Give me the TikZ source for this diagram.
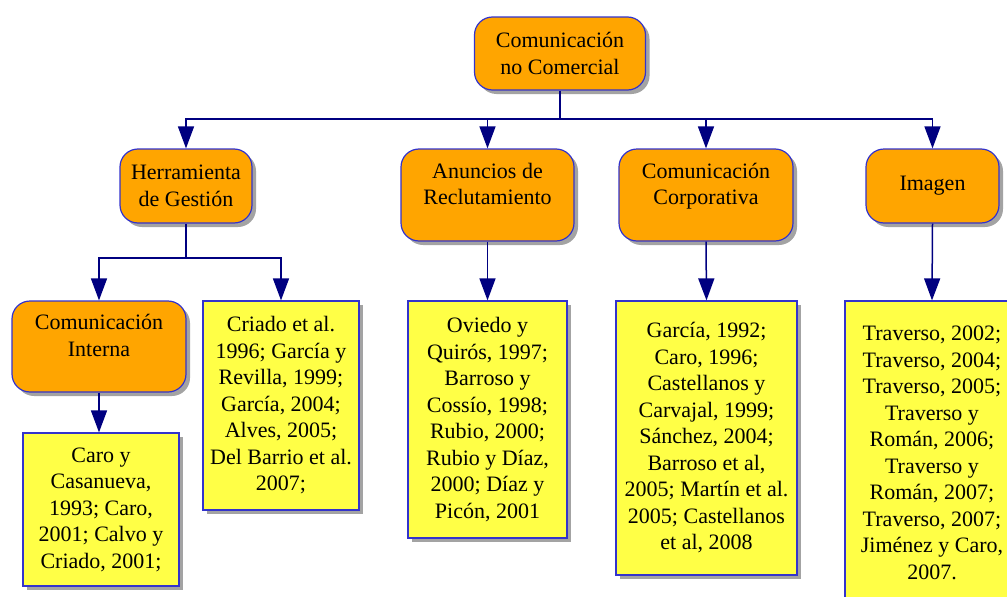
\documentclass[tikz,border=0pt]{standalone}
\usepackage{fontspec}
\setmainfont{Liberation Serif}
\usetikzlibrary{arrows.meta,shadows}
\definecolor{naranja}{RGB}{255,165,0}
\definecolor{amarillo}{RGB}{255,255,70}
\definecolor{borde}{RGB}{51,51,204}
\definecolor{marino}{RGB}{0,0,128}
\begin{document}
\begin{tikzpicture}[x=1pt,y=-1pt,
    caja/.style={draw=borde, line width=1.2pt, align=center, inner sep=2pt,
      font=\fontsize{22}{26.5}\selectfont,
      drop shadow={shadow xshift=4pt, shadow yshift=-4pt, fill=black!45, opacity=.8}},
    tema/.style={caja, fill=naranja, rounded corners=18pt},
    cita/.style={caja, fill=amarillo},
    linea/.style={draw=marino, line width=1.5pt},
    flecha/.style={linea, -{Triangle[width=16pt,length=22pt]}}]
    \useasboundingbox (0,0) rectangle (1007,597);
    % temas
    \node[tema, minimum width=171pt, minimum height=73pt] (raiz) at (560,53.5) {Comunicación\\no Comercial};
    \node[tema, minimum width=132pt, minimum height=74pt] (herram) at (186,186) {Herramienta\\de Gestión};
    \node[tema, minimum width=174pt, minimum height=91pt] (interna) at (99,346.5) {Comunicación\\Interna\\[-4pt]~};
    \node[tema, minimum width=173pt, minimum height=92pt] (anuncios) at (487.5,195) {Anuncios de\\Reclutamiento\\[-4pt]~};
    \node[tema, minimum width=174pt, minimum height=92pt] (corpor) at (706,195) {Comunicación\\Corporativa\\[-4pt]~};
    \node[tema, minimum width=133pt, minimum height=74pt] (imagen) at (932.5,186) {Imagen};
    % citas
    \node[cita, minimum width=156pt, minimum height=153pt] (citaInt) at (101,509.5) {Caro y\\Casanueva,\\1993; Caro,\\2001; Calvo y\\Criado, 2001;};
    \node[cita, minimum width=156pt, minimum height=209pt] (citaHer) at (281,405.5) {Criado et al.\\1996; García y\\Revilla, 1999;\\García, 2004;\\Alves, 2005;\\Del Barrio et al.\\2007;};
    \node[cita, minimum width=159pt, minimum height=237pt] (citaAnu) at (487.5,419.5) {Oviedo y\\Quirós, 1997;\\Barroso y\\Cossío, 1998;\\Rubio, 2000;\\Rubio y Díaz,\\2000; Díaz y\\Picón, 2001};
    \node[cita, minimum width=181pt, minimum height=274pt] (citaCor) at (706.5,438) {García, 1992;\\Caro, 1996;\\Castellanos y\\Carvajal, 1999;\\Sánchez, 2004;\\Barroso et al,\\2005; Martín et al.\\2005; Castellanos\\et al, 2008};
    \node[cita, minimum width=174pt, minimum height=304pt] (citaIma) at (932,453) {Traverso, 2002;\\Traverso, 2004;\\Traverso, 2005;\\Traverso y\\Román, 2006;\\Traverso y\\Román, 2007;\\Traverso, 2007;\\Jiménez y Caro,\\2007.};
    % conectores
    \coordinate (busRaiz) at (560,119);
    \coordinate (busHer) at (186,258);
    \draw[linea] (raiz.south) -- (busRaiz);
    \foreach \hijo in {herram,anuncios,corpor,imagen}
        \draw[flecha] (busRaiz) -| (\hijo.north);
    \draw[linea] (herram.south) -- (busHer);
    \foreach \hijo in {interna,citaHer}
        \draw[flecha] (busHer) -| (\hijo.north);
    \draw[flecha] (interna.south) -- (interna.south |- citaInt.north);
    \foreach \padre/\hijo in {anuncios/citaAnu,corpor/citaCor,imagen/citaIma}
        \draw[flecha] (\padre.south) -- (\hijo.north);
\end{tikzpicture}
\end{document}
